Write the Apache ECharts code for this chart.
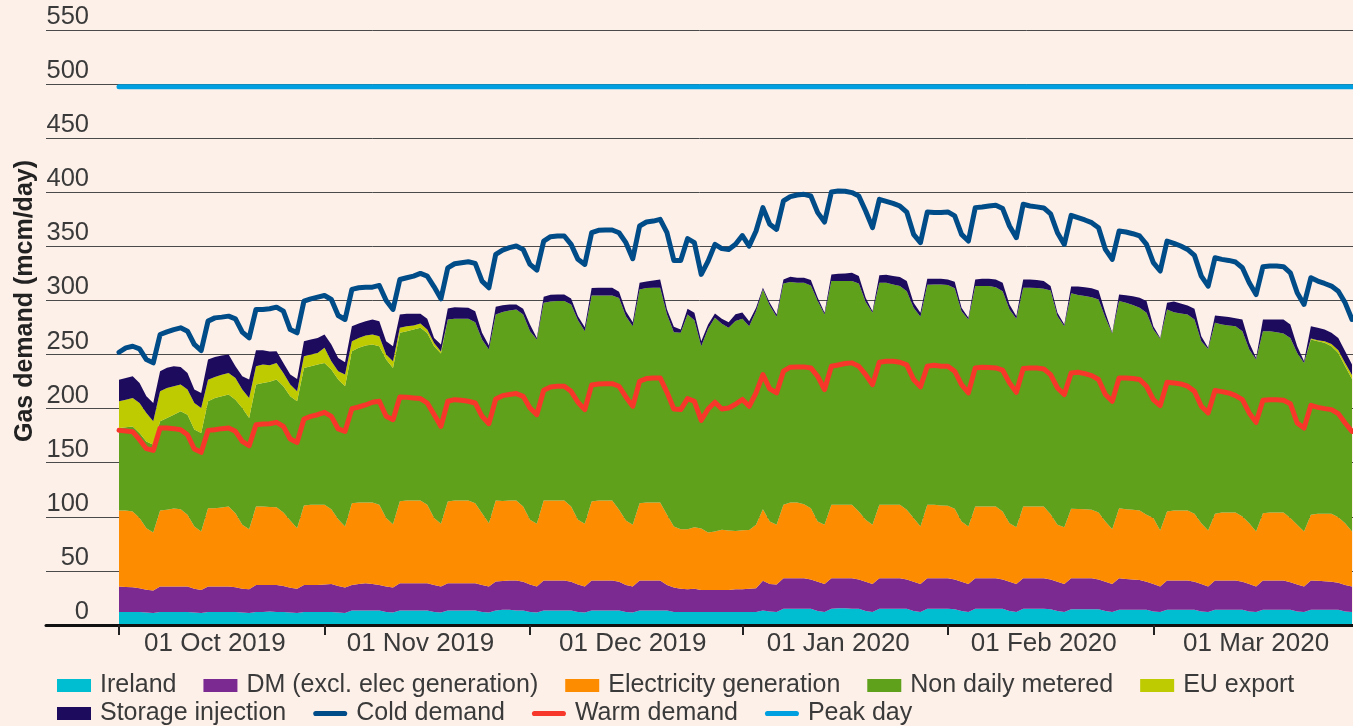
<!DOCTYPE html>
<html>
<head>
<meta charset="utf-8">
<title>Gas demand</title>
<script src="https://cdn.jsdelivr.net/npm/echarts@6.0.0/dist/echarts.min.js"></script>
<style>
  html, body { margin: 0; padding: 0; background: #fdf0e9; }
  #chart { width: 1353px; height: 726px; }
</style>
</head>
<body>
<div id="chart"></div>
<script>
// daily values from 1 Oct 2019 to 29 Mar 2020, mcm/day
// first row is Tue-Sun, then one row per week (Mon-Sun)
var ireland = [
  12, 12, 12, 12, 11.5, 11,
  12, 12, 12, 12, 12, 11.5, 11,
  12, 12, 12, 12, 12, 11.5, 11,
  12, 12, 12.5, 12, 12, 11.5, 11,
  12, 12, 12, 12, 12, 11.5, 11,
  13.5, 13.5, 13.5, 13.5, 13.5, 12, 11.5,
  13.5, 13.5, 13.5, 13.5, 13.5, 12, 11.5,
  13.5, 13.5, 13.5, 13.5, 13.5, 12, 11.5,
  13.5, 14, 14, 13.5, 13.5, 12, 11.5,
  13.5, 13.5, 13.5, 13.5, 13.5, 12, 11.5,
  13.5, 13.5, 13.5, 13.5, 13.5, 12, 11.5,
  13.5, 13.5, 13.5, 13.5, 13.5, 12, 12,
  12, 12, 12, 12, 12, 12, 12,
  12, 12, 12, 12, 13.5, 12.5, 12,
  15, 15, 15, 15, 15, 13, 12,
  15, 15.5, 15.5, 15, 15, 13, 12,
  15, 15, 15, 15, 15, 13, 12,
  15, 15, 15, 15, 14.5, 13, 12,
  15, 15, 15, 15, 15, 13, 12,
  15, 15, 15, 15, 14.5, 13, 12,
  14.5, 14.5, 14.5, 14.5, 14.5, 13, 12,
  14, 14, 14, 14, 14, 12.5, 12,
  14, 14, 14, 14, 14, 12.5, 12,
  14, 14, 14, 14, 14, 12.5, 12,
  14, 14, 14, 14, 14, 12.5, 12,
  14, 14, 14, 14, 14, 12.5, 12
];
var dmExclElec = [
  23.5, 23.2, 22.9, 22, 21, 20.8,
  23.5, 23.5, 23.5, 23.5, 23.5, 22, 21.4,
  23.5, 23.5, 23.5, 23.5, 23, 22.1, 22,
  25, 25, 24.5, 25, 24, 23, 22.6,
  25, 25, 25, 25.5, 26, 24.5, 23.6,
  23.5, 24.5, 25.1, 24.5, 23.5, 23.5, 23.1,
  25.1, 25.1, 25.1, 25.1, 25.1, 25, 24,
  25.1, 25.1, 25.1, 25.1, 25.1, 25, 24,
  26.6, 26.6, 27.1, 27.6, 26.5, 25.5, 24,
  27.6, 27.6, 27.6, 27.6, 26.5, 25.5, 24,
  27.6, 27.6, 27.6, 27.6, 26.5, 25, 24,
  27.6, 27.6, 27.6, 27.6, 23.5, 22.6, 21.6,
  21, 21.6, 20.4, 20.4, 20.4, 20.4, 20.4,
  21, 21, 21.5, 22, 27.5, 25.5, 25.5,
  28.2, 28.2, 28.2, 28.2, 27, 27, 26,
  28.2, 27.7, 27.7, 28.2, 27, 27, 26,
  28.2, 28.2, 28.2, 28.2, 27, 27, 26,
  28.2, 28.2, 28.2, 28.2, 27.5, 27, 26,
  28.2, 28.2, 28.2, 28.2, 27, 27, 26,
  28.2, 28.2, 28.2, 28.2, 27.5, 27, 26,
  28.7, 28.7, 28.7, 28.7, 27.5, 27, 26,
  29.2, 28.5, 28, 27.5, 26, 25.5, 23.5,
  27.1, 27.1, 27.1, 27.1, 26, 25.5, 23.5,
  27.1, 27.1, 27.1, 27.1, 26, 25.5, 23.5,
  27.1, 27.1, 27.1, 27.1, 25.5, 25, 23.5,
  27.1, 27, 26.5, 26, 25, 24.5, 23.5
];
var electricity = [
  70.4, 70.7, 70, 64.8, 57, 53.7,
  70.4, 71, 72.2, 71.6, 66.4, 57.5, 54,
  72.5, 72.5, 73.1, 74.1, 68.4, 59, 55.6,
  72.6, 72.6, 72.1, 71.9, 68, 62.1, 55.9,
  73.5, 74.1, 74.1, 73.6, 69.1, 61.8, 56.4,
  75.6, 75.3, 74.7, 75.3, 74.1, 63.3, 58.6,
  75.9, 76.5, 76.5, 76.5, 72.5, 61.8, 58,
  75.6, 76.5, 76.5, 76.5, 74, 66.4, 58.6,
  75, 74, 74, 74, 69.6, 59.7, 58,
  74, 74, 74, 74, 69.6, 59.7, 58,
  73.1, 74, 74, 74, 66.5, 59.6, 57.1,
  71.5, 72.2, 72.2, 72.2, 64.9, 56.4, 55,
  55.6, 56.8, 56.8, 53.1, 54, 55.6, 54.9,
  54, 54.6, 54.4, 58.6, 66.1, 57.7, 55.1,
  67.9, 70.1, 70.1, 68.5, 66, 55.7, 54.6,
  67.9, 67.9, 67.9, 67.9, 62.9, 57.2, 54.6,
  67.9, 67.9, 67.9, 67.9, 64.5, 58.8, 53,
  67.9, 67.9, 67.3, 67, 65.5, 55.7, 53,
  66.4, 66.4, 66.4, 66.4, 62.9, 54.1, 52.4,
  66.4, 66.4, 66.4, 66.4, 60.3, 52.6, 52.4,
  64.3, 64, 63.7, 63.4, 62, 55.7, 50.6,
  64.8, 64.6, 64.5, 64.4, 61.9, 60.8, 51.8,
  63.8, 64.8, 64.8, 64.8, 62.8, 56.1, 51.8,
  61.7, 62.9, 62.9, 62.9, 60.3, 56.1, 50.9,
  62.3, 62.9, 62.9, 62.9, 59.3, 55.1, 50.9,
  60.8, 61.8, 62.3, 62.8, 60.7, 57.1, 50.9
];
var nonDailyMetered = [
  76.2, 76.8, 78.7, 78.7, 80.2, 81.2,
  82.4, 84.9, 86.7, 90.4, 92.5, 89.6, 91.1,
  98.8, 101.9, 102.8, 103.4, 104.9, 108, 102.8,
  112.6, 114.2, 115.7, 118, 116.7, 114.8, 117.3,
  127.1, 128.1, 129.6, 131.2, 129, 129.1, 129.7,
  140.5, 142.9, 145, 146, 146.6, 146.6, 144.4,
  155.6, 156.5, 158, 159.6, 158.9, 158.9, 157.4,
  168.2, 167.9, 167.9, 167.9, 167.3, 160.5, 160.5,
  171.9, 174.7, 175.6, 176.6, 177.4, 174.4, 170.4,
  182.7, 184, 184.3, 184.3, 186.7, 184.6, 178.1,
  190.4, 189.5, 189.5, 189.5, 195.7, 188.9, 183.6,
  197.6, 198.1, 198.4, 198.4, 185.1, 179.7, 181.5,
  198.4, 191.4, 168.5, 188.3, 197.6, 190.4, 187.4,
  194, 195.4, 188.3, 197.5, 203.1, 199.7, 192.3,
  204.6, 203.7, 203.1, 204.7, 205.9, 203.7, 194.4,
  206.8, 206.8, 206.8, 206.8, 210.8, 201.3, 196,
  205.3, 205.3, 203.7, 202.2, 202.1, 194.4, 193.9,
  203.4, 203.7, 204.3, 204, 203.7, 194.4, 191.4,
  203.7, 203.7, 203.7, 202.7, 203.7, 197.6, 192.6,
  202.1, 202.1, 201.8, 201.2, 206.8, 192.9, 185.8,
  199.1, 197.8, 197.2, 196.3, 196.9, 188.3, 180.8,
  191.4, 190.7, 189.2, 187.3, 186.7, 174.3, 177.2,
  186.8, 183.3, 182.1, 181.1, 179.6, 168.2, 167.9,
  176.5, 173.8, 172.8, 172.2, 171.3, 160.5, 159,
  168.2, 167.6, 166.7, 165.4, 166.6, 158.9, 155.9,
  162, 159.5, 158, 154.9, 151.8, 145.1, 141.1
];
var euExport = [
  24.7, 25.6, 26.3, 27.7, 26.3, 21.6,
  27.8, 27.7, 26.3, 24.7, 23.2, 24.6, 23.1,
  20, 19.4, 20, 20, 20.1, 17, 18.5,
  17, 16.9, 15.4, 15.4, 12.3, 10.8, 9.3,
  10.8, 10.8, 10.8, 13.9, 7.7, 7.7, 10.8,
  9.2, 9.2, 9.3, 9.2, 9.3, 4.6, 6.2,
  4.6, 4.6, 3.7, 4, 3.1, 3, 2,
  0, 0, 0, 0, 0, 0, 0,
  0, 0, 0, 0, 0, 0, 0,
  0, 0, 0, 0, 0, 0, 0,
  0, 0, 0, 0, 0, 0, 0,
  0, 0, 0, 0, 0, 0, 0,
  0, 0, 0, 0, 0, 0, 0,
  0, 0, 0, 0, 0, 0, 0,
  0, 0, 0, 0, 0, 0, 0,
  0, 0, 0, 0, 0, 0, 0,
  0, 0, 0, 0, 0, 0, 0,
  0, 0, 0, 0, 0, 0, 0,
  0, 0, 0, 0, 0, 0, 0,
  0, 0, 0, 0, 0, 0, 0,
  0, 0, 0, 0, 0, 0, 0,
  0, 0, 0, 0, 0, 0, 0,
  0, 0, 0, 0, 0, 0, 0,
  0, 0, 0, 0, 0, 0, 0,
  0, 0, 0, 0, 0, 0, 0,
  1, 1, 1.5, 2, 2.5, 3, 3.5
];
var storageInjection = [
  20, 20.1, 20.1, 18.6, 15.4, 16.9,
  18.5, 18.6, 18.5, 16.4, 15.4, 12.4, 13.9,
  18.6, 18.5, 17.7, 17, 10.8, 12.3, 17,
  14.8, 13.3, 12.7, 10.8, 9.3, 9.3, 11.4,
  13.9, 13.9, 13.9, 12.3, 15.5, 12.3, 11.4,
  13.9, 13.3, 13.2, 13.9, 13.8, 12.3, 13.9,
  12.3, 11.4, 10.8, 8.9, 9.9, 4.7, 6.4,
  10.2, 10.8, 10.5, 10.2, 10.2, 6.2, 3.7,
  7.1, 6.2, 5.6, 4.6, 5.3, 6.2, 1.5,
  5.6, 6.2, 6.1, 6.1, 5.5, 3.7, 3.7,
  6.8, 7.1, 7.1, 7.1, 5.8, 4.6, 3.7,
  6.2, 6.2, 6.8, 7.7, 4.7, 4.9, 3,
  5.3, 6.8, 4.6, 4, 4, 4.6, 5.2,
  6.3, 5.9, 4.6, 3.1, 1.5, 2.4, 2.1,
  3.7, 4.9, 4.6, 4.6, 4.9, 3.1, 1.6,
  6.2, 6.8, 7.1, 7.7, 6.8, 4, 1.5,
  7, 7.4, 7.7, 8.3, 9.3, 4.6, 3.7,
  5.5, 5.2, 5.2, 5.2, 6.2, 3.1, 1.5,
  6.1, 6.7, 6.7, 7.1, 7.8, 4.6, 2.5,
  7.7, 7.7, 7.6, 7.1, 4.3, 3.1, 1.6,
  6.2, 7.8, 8, 8.3, 8.4, 4.6, 0.7,
  6.1, 7.1, 8.3, 9.3, 10.8, 3.1, 0.9,
  6.1, 9.9, 9.2, 8.4, 9.9, 4.6, 1,
  6.8, 7.7, 7.8, 7.4, 10.8, 6.2, 1.5,
  10.8, 10.8, 11.7, 13, 12.4, 6.2, 1.5,
  11.3, 11.4, 10.8, 10.4, 11.4, 10.9, 9.7
];
var coldDemand = [
  252.1, 256.2, 257.7, 255.2, 245.4, 242.3,
  268.5, 271, 273.1, 274.7, 271.6, 259.3, 253.7,
  280.9, 283.9, 284.6, 285.5, 283, 270.7, 265.4,
  291.7, 291.7, 292.3, 293.8, 290.1, 273.1, 270.1,
  299.4, 301.5, 303.1, 304.6, 300.9, 286.1, 282.4,
  310.2, 311.7, 312.3, 312.3, 313.9, 300, 291.7,
  319.4, 321, 322.5, 325, 322.5, 312.6, 301.5,
  330.2, 333.9, 334.9, 335.8, 334.3, 317.9, 311.7,
  342.6, 346.6, 348.8, 350.3, 347.2, 333.3, 328.1,
  354.9, 358.9, 359.6, 359.6, 351.8, 338, 333.3,
  362.6, 364.8, 365.1, 365.1, 362.6, 353.4, 338.6,
  368.8, 372.5, 373.4, 375, 362.6, 337, 337,
  357.1, 353.4, 324.1, 336.4, 351.8, 347.9, 347.2,
  352, 360, 350.3, 364.2, 385.8, 370.4, 365.7,
  392, 396, 397.5, 398.1, 396.6, 381.2, 372.5,
  400.3, 401.2, 401, 399.7, 396.6, 382.7, 367.3,
  393.5, 391.6, 389.8, 387.3, 381.7, 361.1, 353.4,
  381.7, 381.2, 381.2, 381.8, 378.1, 361.1, 354.9,
  385.8, 386.4, 387.3, 388, 384.9, 368.8, 358,
  388.9, 387.3, 386.5, 385.5, 380, 362.6, 351.8,
  378.7, 376.5, 374.4, 371.9, 367.3, 347.2, 338,
  364.2, 363.3, 361.7, 359.6, 351.8, 334.9, 327.2,
  354.9, 352.8, 350.3, 347.2, 341.7, 322.5, 313.3,
  339.5, 338, 337, 335.5, 330.2, 316.4, 305.5,
  331.2, 331.8, 331.8, 331.2, 325.6, 307.1, 296.3,
  321, 317.9, 315.7, 313.3, 308.6, 297.8, 282.4
];
var warmDemand = [
  179.9, 179.3, 178.7, 171.3, 163, 161.4,
  182.1, 182.1, 181.5, 180.5, 175.9, 162.7, 159.6,
  179.9, 180.5, 181.5, 182.1, 179, 169.7, 165.7,
  185.2, 185.8, 186.1, 187.3, 183.6, 171.9, 168.8,
  190.4, 192.9, 194.4, 196.6, 192.9, 181.2, 179,
  200, 201.5, 203.4, 205.9, 206.8, 193, 189.8,
  210.8, 210.5, 209.9, 209.3, 205.2, 194.5, 183.6,
  206.8, 208.3, 207.7, 206.8, 205.2, 192.9, 186.1,
  208.9, 212, 213, 213.9, 211.4, 200.6, 194.4,
  217, 220.1, 220.7, 220.7, 216, 205.9, 199.1,
  221.9, 222.8, 223.1, 223.1, 220.7, 210.8, 202.2,
  225.3, 227.8, 228.4, 228.4, 215.1, 199.7, 199.1,
  209.3, 206.8, 189.2, 199.7, 205.9, 199.7, 200.6,
  204, 208.5, 202.2, 214.5, 231.5, 218.2, 214.5,
  234.6, 238.3, 238.6, 238.6, 237.6, 229.9, 217.6,
  239.2, 240.4, 241.7, 242.3, 239.2, 231.5, 222.2,
  242.9, 243.8, 243.8, 242.9, 240.4, 226.9, 220.1,
  239.2, 240.1, 239.2, 239.2, 234.6, 222.2, 214.5,
  237.6, 238.3, 238, 237.6, 235.5, 223.8, 215.1,
  237, 237.6, 237.6, 236.7, 231.5, 219.1, 213,
  233, 233.6, 232.4, 230.5, 226.9, 213, 206.8,
  228.4, 228.4, 227.8, 226.9, 220.7, 208.3, 202.8,
  224.4, 223.8, 222.8, 220.7, 216, 202.2, 196,
  216.7, 215.7, 214.5, 212, 208.3, 196, 187.3,
  207.7, 208.3, 208.3, 207.7, 204.6, 186.7, 182.1,
  203.1, 201.2, 200, 199.1, 195.4, 186.7, 179
];
var peakDay = 497.5;

var monthLabels = ['01 Oct 2019', '01 Nov 2019', '01 Dec 2019', '01 Jan 2020', '01 Feb 2020', '01 Mar 2020'];
var tickDays = [0, 30, 60, 91, 121, 151];
var labelDays = [14, 44, 75, 105, 135, 166];

var days = [];
for (var i = 0; i < coldDemand.length; i++) {
  days.push(new Date(Date.UTC(2019, 9, 1 + i)).toISOString().slice(0, 10));
}

var font = "'Liberation Sans', Arial, sans-serif";
var textColor = '#3a3a3a';
var lineIcon = 'path://M3,0H37A3,3 0 0 1 37,6H3A3,3 0 0 1 3,0Z';

function area(name, data, color) {
  return {
    name: name, type: 'line', stack: 'demand', data: data,
    xAxisIndex: 1, yAxisIndex: 1,
    symbol: 'none', lineStyle: { width: 0 },
    itemStyle: { color: color },
    areaStyle: { color: color, opacity: 1 },
    emphasis: { disabled: true }
  };
}
function line(name, data, color) {
  return {
    name: name, type: 'line', data: data,
    xAxisIndex: 1, yAxisIndex: 1,
    symbol: 'none', clip: false, z: 4,
    itemStyle: { color: color },
    lineStyle: { color: color, width: 5, cap: 'round', join: 'round' },
    emphasis: { disabled: true }
  };
}

var chart = echarts.init(document.getElementById('chart'));
chart.setOption({
  animation: false,
  backgroundColor: '#fdf0e9',
  textStyle: { fontFamily: font },
  grid: [
    { left: 46, right: 0, top: 30, bottom: 101 },
    { left: 119, right: 1, top: 30, bottom: 101 }
  ],
  xAxis: [
    {
      gridIndex: 0, type: 'value', min: 0, max: 1, z: 5,
      axisLine: { show: true, lineStyle: { color: '#111', width: 3 } },
      axisTick: { show: false }, axisLabel: { show: false }, splitLine: { show: false }
    },
    {
      gridIndex: 1, type: 'category', data: days, boundaryGap: false, z: 5,
      axisLine: { show: false },
      axisTick: {
        show: true, length: 10, lineStyle: { color: '#222', width: 2 },
        interval: function (idx) { return tickDays.indexOf(idx) >= 0; }
      },
      axisLabel: {
        fontSize: 26, color: textColor, margin: 6,
        interval: function (idx) { return labelDays.indexOf(idx) >= 0; },
        formatter: function (v, idx) { return monthLabels[labelDays.indexOf(idx)]; }
      },
      splitLine: { show: false }
    }
  ],
  yAxis: [
    {
      gridIndex: 0, type: 'value', min: 0, max: 550, interval: 50,
      axisLine: { show: false }, axisTick: { show: false }, axisLabel: { show: false },
      splitLine: { show: true, lineStyle: { color: '#4a4a4a', width: 1 } }
    },
    {
      gridIndex: 1, type: 'value', min: 0, max: 550, interval: 50,
      axisLine: { show: false }, axisTick: { show: false },
      axisLabel: { fontSize: 25.5, color: textColor, margin: 30, verticalAlign: 'bottom' },
      splitLine: { show: false }
    }
  ],
  graphic: [{
    type: 'text', x: 25, y: 301, rotation: Math.PI / 2,
    style: {
      text: 'Gas demand (mcm/day)', font: 'bold 25px ' + font,
      fill: '#222', align: 'center', verticalAlign: 'middle'
    }
  }],
  legend: [
    {
      left: 57, top: 673, padding: 0, itemWidth: 34, itemHeight: 13, itemGap: 27, selectedMode: false,
      textStyle: { fontSize: 25, color: textColor, padding: [0, 0, 0, 4] },
      data: [
        { name: 'Ireland', icon: 'rect' },
        { name: 'DM (excl. elec generation)', icon: 'rect' },
        { name: 'Electricity generation', icon: 'rect' },
        { name: 'Non daily metered', icon: 'rect' },
        { name: 'EU export', icon: 'rect' }
      ]
    },
    {
      left: 57, top: 701, padding: 0, itemWidth: 34, itemHeight: 13, itemGap: 27, selectedMode: false,
      textStyle: { fontSize: 25, color: textColor, padding: [0, 0, 0, 4] },
      data: [
        { name: 'Storage injection', icon: 'rect' },
        { name: 'Cold demand', icon: lineIcon },
        { name: 'Warm demand', icon: lineIcon },
        { name: 'Peak day', icon: lineIcon }
      ]
    }
  ],
  series: [
    area('Ireland', ireland, '#00bed2'),
    area('DM (excl. elec generation)', dmExclElec, '#7b2a92'),
    area('Electricity generation', electricity, '#fe8c00'),
    area('Non daily metered', nonDailyMetered, '#60a11c'),
    area('EU export', euExport, '#bdcb00'),
    area('Storage injection', storageInjection, '#1d0c5e'),
    line('Cold demand', coldDemand, '#004c88'),
    line('Warm demand', warmDemand, '#f7372a'),
    line('Peak day', [[days[0], peakDay], [days[days.length - 1], peakDay]], '#00a0e0')
  ]
});
</script>
</body>
</html>
